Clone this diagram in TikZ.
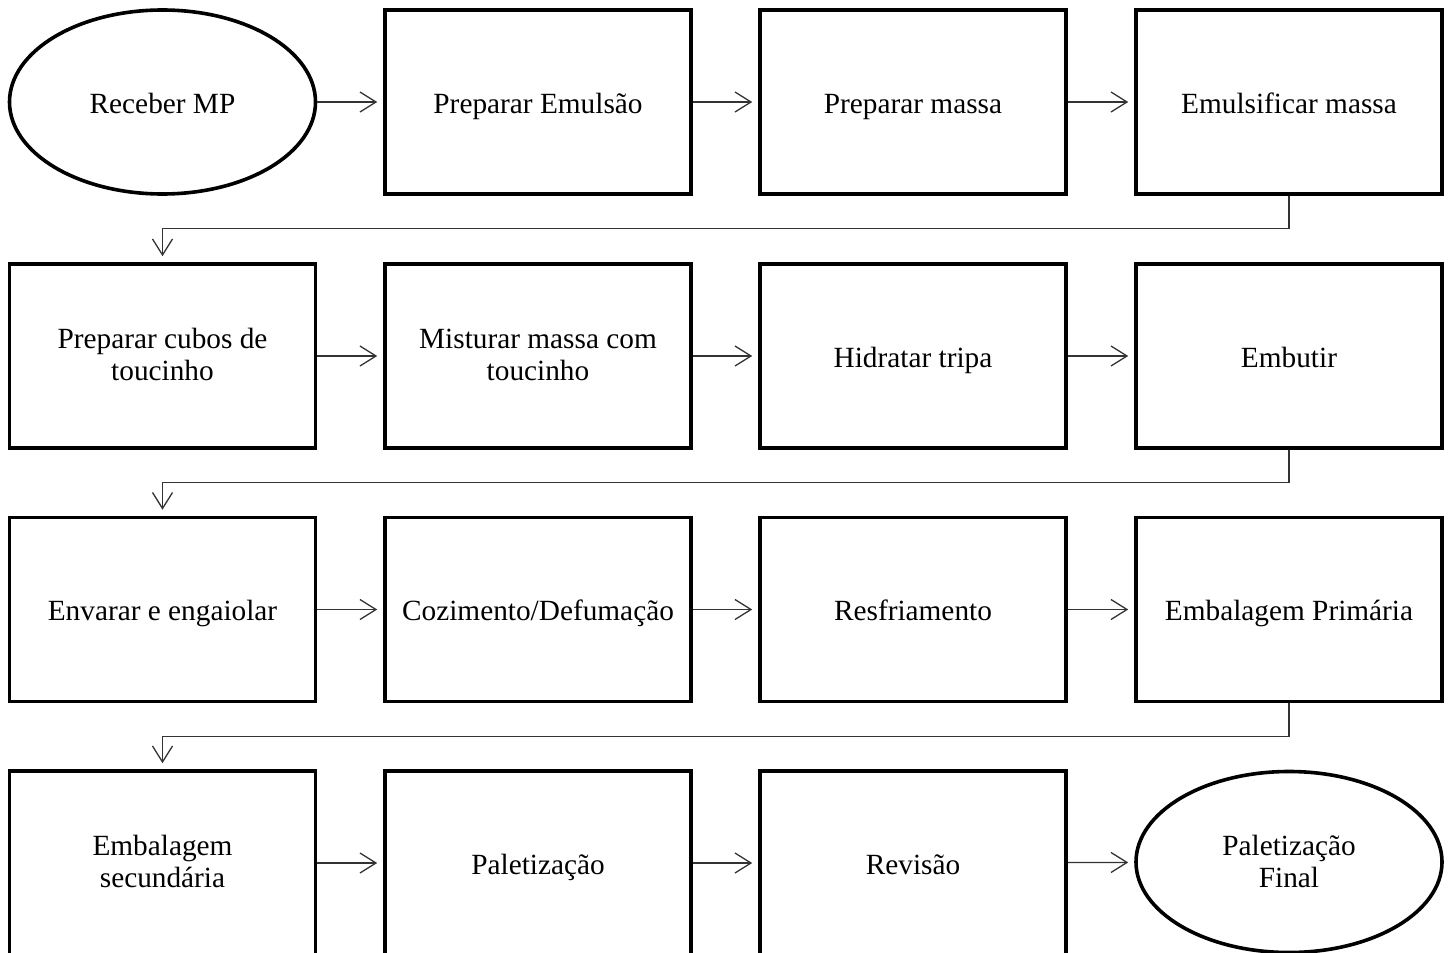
\documentclass[tikz,border=0pt]{standalone}
\usepackage{fontspec}
\setmainfont{Liberation Serif}
\usetikzlibrary{shapes.geometric,arrows.meta}
\newcommand{\ls}{\rule[-8pt]{0pt}{38pt}}
\newcommand{\lt}{\rule{0pt}{30pt}}
\newcommand{\lb}{\rule[-8pt]{0pt}{8pt}}
\begin{document}
\begin{tikzpicture}[x=1pt,y=-1pt,
  every node/.style={font=\fontsize{29.3}{32}\selectfont, align=center, inner sep=0pt},
  procbox/.style={draw, line width=3.6pt, minimum width=306pt, minimum height=184pt},
  term/.style={draw, ellipse, line width=3.6pt, minimum width=306pt, minimum height=184pt},
  arr/.style={line width=1.3pt, draw=black!80, shorten >=6pt, -{Straight Barb[length=16pt,width=20pt,line width=1.3pt]}}]
\useasboundingbox (0,0) rectangle (1452,953);
\clip (0,0) rectangle (1452,953);
% row 1
\node[term]    (n1)  at (162.5,102) {\ls Receber MP};
\node[procbox] (n2)  at (538,102)   {\ls Preparar Emulsão};
\node[procbox] (n3)  at (913,102)   {\ls Preparar massa};
\node[procbox] (n4)  at (1289,102)  {\ls Emulsificar massa};
% row 2
\node[procbox] (n5)  at (162.5,356) {};
\node[procbox] (n6)  at (538,356)   {};
\node[procbox] (n7)  at (913,356)   {\ls Hidratar tripa};
\node[procbox] (n8)  at (1289,356)  {\ls Embutir};
\node[yshift=3pt] (t5) at (n5.center) {\lt Preparar cubos de\\toucinho\lb};
\node[yshift=3pt] (t6) at (n6.center) {\lt Misturar massa com\\toucinho\lb};
% row 3
\node[procbox] (n9)  at (162.5,609.5) {\ls Envarar e engaiolar};
\node[procbox] (n10) at (538,609.5)   {\ls Cozimento/Defumação};
\node[procbox] (n11) at (913,609.5)   {\ls Resfriamento};
\node[procbox] (n12) at (1289,609.5)  {\ls Embalagem Primária};
% row 4
\node[procbox] (n13) at (162.5,863) {};
\node[procbox] (n14) at (538,863)   {\ls Paletização};
\node[procbox] (n15) at (913,863)   {\ls Revisão};
\node[term, minimum height=181pt] (n16) at (1289,862) {};
\node[yshift=3pt] (t13) at (n13.center) {\lt Embalagem\\secundária\lb};
\node[yshift=3pt] (t16) at (1289,863) {\lt Paletização\\Final\lb};
% connectors
\draw[arr] (n1) -- (n2);
\draw[arr] (n2) -- (n3);
\draw[arr] (n3) -- (n4);
\draw[arr] (n4.south) -- ++(0,33) -| (n5.north);
\draw[arr] (n5) -- (n6);
\draw[arr] (n6) -- (n7);
\draw[arr] (n7) -- (n8);
\draw[arr] (n8.south) -- ++(0,33) -| (n9.north);
\draw[arr] (n9) -- (n10);
\draw[arr] (n10) -- (n11);
\draw[arr] (n11) -- (n12);
\draw[arr] (n12.south) -- ++(0,33) -| (n13.north);
\draw[arr] (n13) -- (n14);
\draw[arr] (n14) -- (n15);
\draw[arr] (n15) -- (n16);
\end{tikzpicture}
\end{document}
